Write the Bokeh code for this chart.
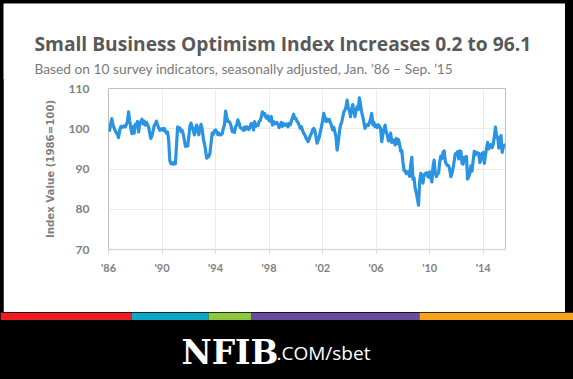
from bokeh.plotting import figure
from bokeh.layouts import column
from bokeh.models import Range1d, FixedTicker, ColumnDataSource
from bokeh.core.properties import value
from bokeh.embed import file_html
from bokeh.resources import INLINE

# ---- data (monthly index, Jan 1986 - Sep 2015) ----
start_year = 1986
index_values = [
    100.0, 99.6, 101.2, 102.5, 101.0, 100.2, 99.5, 99.0, 98.6, 97.8, 99.5, 100.5,   # 1986
    100.6, 100.4, 100.7, 100.5, 101.0, 101.8, 104.2, 102.0, 100.3, 98.8, 100.5, 98.9,  # 1987
    101.1, 100.8, 101.8, 99.2, 101.3, 101.8, 102.4, 101.2, 101.9, 100.9, 101.6, 101.0,  # 1988
    100.4, 98.8, 97.6, 98.3, 99.5, 100.8, 101.2, 101.9, 101.0, 100.2, 99.6, 99.9,     # 1989
    100.0, 99.6, 100.1, 99.4, 98.9, 99.2, 97.0, 92.0, 91.3, 91.5, 91.2, 91.6,         # 1990
    91.3, 96.0, 100.5, 99.8, 100.2, 99.3, 99.6, 98.7, 97.2, 95.6, 95.9, 95.7,         # 1991
    98.0, 100.6, 101.4, 100.5, 99.6, 98.5, 100.0, 100.9, 99.4, 98.5, 100.2, 101.1,    # 1992
    99.9, 97.6, 96.3, 94.8, 92.7, 92.9, 93.1, 94.0, 96.5, 98.9, 98.6, 99.5,           # 1993
    99.7, 99.3, 98.5, 98.9, 98.5, 98.5, 98.8, 100.1, 101.0, 104.4, 102.9, 101.8,      # 1994
    101.8, 101.4, 100.6, 99.3, 99.6, 99.1, 100.5, 101.0, 102.2, 101.5, 100.4, 100.1,  # 1995
    100.1, 99.6, 100.4, 99.8, 100.5, 100.2, 99.8, 100.6, 101.3, 100.9, 99.7, 101.8,   # 1996
    100.6, 101.0, 100.8, 101.8, 102.0, 102.9, 104.2, 103.5, 103.8, 102.9, 102.6, 103.2,  # 1997
    102.0, 101.9, 103.0, 100.9, 101.8, 101.2, 101.5, 101.6, 101.0, 100.3, 100.9, 101.6,  # 1998
    100.6, 101.3, 101.0, 100.8, 101.2, 100.5, 101.3, 101.0, 101.9, 102.8, 103.6, 102.5,  # 1999
    102.6, 101.9, 101.5, 100.8, 100.1, 100.5, 99.6, 98.9, 98.5, 97.8, 97.3, 96.8,     # 2000
    97.5, 98.3, 98.8, 99.7, 100.1, 99.6, 98.2, 96.4, 97.1, 97.9, 99.3, 100.6,         # 2001
    102.0, 103.8, 102.9, 101.8, 102.4, 101.9, 102.3, 101.5, 100.8, 99.7, 100.4, 99.2,  # 2002
    98.0, 94.7, 96.6, 99.0, 100.9, 101.5, 102.8, 104.2, 104.6, 105.5, 107.1, 105.2,   # 2003
    104.5, 103.0, 104.8, 106.0, 104.4, 103.0, 104.6, 105.5, 104.8, 107.7, 106.0, 104.2,  # 2004
    103.0, 101.6, 100.1, 100.6, 101.0, 100.8, 101.5, 102.4, 103.8, 101.0, 101.6, 100.5,  # 2005
    100.9, 100.3, 101.0, 100.6, 100.1, 96.8, 98.5, 99.8, 100.9, 99.2, 98.5, 97.0,     # 2006
    97.3, 98.9, 96.6, 97.3, 97.0, 96.0, 97.6, 96.3, 97.3, 96.2, 94.4, 94.6,           # 2007
    91.8, 89.6, 89.6, 88.8, 89.3, 89.2, 88.2, 91.1, 92.9, 87.5, 87.8, 85.2,           # 2008
    84.1, 82.6, 81.0, 86.8, 88.9, 87.9, 86.5, 88.6, 88.8, 89.1, 88.3, 88.0,           # 2009
    89.3, 88.0, 86.8, 90.6, 92.2, 89.0, 88.1, 88.8, 89.0, 91.7, 93.2, 92.6,           # 2010
    94.1, 94.5, 91.9, 91.2, 90.9, 90.8, 89.9, 88.1, 88.9, 90.2, 92.0, 93.8,           # 2011
    93.9, 94.3, 92.5, 94.5, 94.4, 91.4, 91.2, 92.9, 92.8, 93.1, 87.5, 88.0,           # 2012
    88.9, 90.8, 89.5, 92.1, 94.4, 93.5, 94.1, 94.0, 93.9, 91.6, 92.5, 93.9,           # 2013
    94.1, 91.4, 93.4, 95.2, 96.6, 95.0, 95.7, 96.1, 95.3, 96.1, 98.1, 100.4,          # 2014
    97.9, 98.0, 95.2, 96.9, 98.3, 94.1, 95.4, 95.9, 96.1,                             # 2015
]
tick_years = [1986, 1990, 1994, 1998, 2002, 2006, 2010, 2014]
tick_labels = ["'86", "'90", "'94", "'98", "'02", "'06", "'10", "'14"]
y_ticks = [70, 80, 90, 100, 110]

title_text = "Small Business Optimism Index Increases 0.2 to 96.1"
subtitle_text = "Based on 10 survey indicators, seasonally adjusted,  Jan. \u201986 \u2013 Sep. \u201915"
y_label = "Index Value (1986=100)"
brand_main = "NFIB"
brand_rest = ".COM/sbet"

strip_colors = ["#ED1C24", "#0EA8C6", "#8DC63F", "#6A4C9C", "#F7A21B"]
strip_left = [0, 131, 208, 251, 419]
strip_right = [131, 208, 251, 419, 573]

font = "Lato"
gray = "#7f7f7f"


def blank(width, height, xr, yr, bg):
    f = figure(width=width, height=height, output_backend="svg", toolbar_location=None,
               x_range=Range1d(*xr), y_range=Range1d(*yr), x_axis_type=None, y_axis_type=None,
               min_border=0, outline_line_color=None, background_fill_color=bg,
               border_fill_color=bg, frame_align=False)
    f.grid.visible = False
    return f


# ---- header (page coordinates: x 3..565, y 3..79) ----
top = blank(562, 76, (3, 565), (79, 3), "white")
top.margin = (3, 8, 0, 3)
top.text(x=[34], y=[43], text=[title_text], text_font=value("Open Sans"), text_font_size="19.2px",
         text_font_style="bold", text_color="#595959", text_baseline="middle", text_align="left")
top.text(x=[34], y=[67.5], text=[subtitle_text], text_font=value(font), text_font_size="13.75px",
         text_color="#7a7a7a", text_baseline="middle", text_align="left")

# ---- chart (page y 78..312) ----
months = [start_year + i / 12 for i in range(len(index_values))]
src = ColumnDataSource(data=dict(x=months, y=index_values))

p = figure(width=562, height=234, output_backend="svg", toolbar_location=None,
           x_range=Range1d(start_year, months[-1]), y_range=Range1d(70, 110),
           min_border_left=105, min_border_right=60, min_border_top=10,
           min_border_bottom=63, outline_line_color=None, frame_align=False,
           background_fill_color="white", border_fill_color="white")
p.margin = (-1, 8, 0, 3)
p.line("x", "y", source=src, line_color="#2A93E2", line_width=3.2, line_join="round")

p.xaxis.ticker = FixedTicker(ticks=tick_years)
p.xaxis.major_label_overrides = {y: l for y, l in zip(tick_years, tick_labels)}
p.xaxis.axis_line_color = "#d9d9d9"
p.xaxis.axis_line_width = 1.5
p.xaxis.major_tick_line_color = "#d9d9d9"
p.xaxis.major_tick_out = 4
p.xaxis.major_tick_in = 0
p.xaxis.minor_tick_line_color = None
p.xaxis.major_label_text_font = font
p.xaxis.major_label_text_font_size = "11px"
p.xaxis.major_label_text_font_style = "bold"
p.xaxis.major_label_text_color = gray
p.xaxis.major_label_standoff = 7

p.yaxis.ticker = FixedTicker(ticks=y_ticks)
p.yaxis.axis_line_color = None
p.yaxis.major_tick_line_color = None
p.yaxis.minor_tick_line_color = None
p.yaxis.major_label_text_font = font
p.yaxis.major_label_text_font_size = "12px"
p.yaxis.major_label_text_font_style = "bold"
p.yaxis.major_label_text_color = gray
p.yaxis.major_label_standoff = 13
p.yaxis.axis_label = y_label
p.yaxis.axis_label_text_font = "DejaVu Sans"
p.yaxis.axis_label_text_font_size = "10.2px"
p.yaxis.axis_label_text_font_style = "bold"
p.yaxis.axis_label_text_color = gray
p.yaxis.axis_label_standoff = 10

p.xgrid.ticker = FixedTicker(ticks=tick_years)
p.ygrid.ticker = FixedTicker(ticks=y_ticks)
p.xgrid.grid_line_color = "#ebebeb"
p.ygrid.grid_line_color = "#ebebeb"

# ---- footer (page y 312..379) ----
foot = blank(573, 67, (0, 573), (379, 312), "black")
foot.quad(left=strip_left, right=strip_right, top=312, bottom=319.5,
          fill_color=strip_colors, line_color=None)
foot.text(x=[181], y=[352], text=[brand_main], text_font=value("DejaVu Serif"),
          text_font_size="33px", text_font_style="bold", text_color="white",
          text_baseline="alphabetic", text_align="left")
foot.text(x=[276], y=[352], text=[brand_rest], text_font=value("Open Sans"),
          text_font_size="19px", text_color="white",
          text_baseline="alphabetic", text_align="left")

layout = column(top, p, foot, spacing=0, styles={"background-color": "black"})

open("out.html", "w").write(file_html(layout, INLINE))
